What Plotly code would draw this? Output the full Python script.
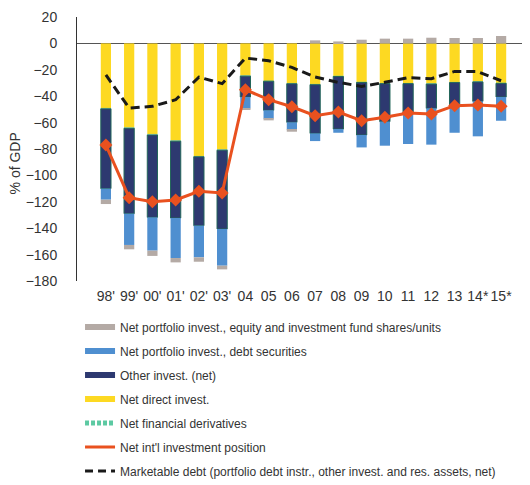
import plotly.graph_objects as go

years = ["98'", "99'", "00'", "01'", "02'", "03'", "04", "05", "06", "07",
         "08", "09", "10", "11", "12", "13", "14*", "15*"]

net_direct = [-49.2, -63.9, -68.9, -73.7, -85.6, -80.5, -24.5, -28.5, -30.3, -31.0,
              -24.7, -29.3, -30.3, -30.3, -30.5, -29.5, -29.0, -30.0]
net_derivatives = [-0.4, -0.4, -0.5, -0.4, -0.3, -0.4, -0.3, -0.2, -0.3, -0.3,
                   -0.4, -0.3, -0.2, -0.2, -0.3, -0.2, -0.2, -0.3]
other_invest = [-60.4, -64.7, -62.4, -58.2, -52.2, -59.7, -15.8, -22.0, -29.2, -36.9,
                -39.8, -39.8, -28.8, -22.2, -18.4, -17.5, -14.7, -10.3]
portfolio_debt = [-8.4, -23.7, -25.2, -30.3, -24.0, -27.8, -8.6, -6.3, -5.6, -5.8,
                  -2.8, -9.4, -18.2, -23.5, -27.5, -20.5, -26.5, -18.0]
portfolio_equity = [-3.3, -3.3, -4.0, -3.3, -3.3, -2.8, -1.0, -1.3, -1.5, 2.3,
                    1.5, 2.8, 3.6, 3.6, 4.3, 4.1, 4.1, 5.6]
niip = [-77.0, -116.9, -119.9, -118.6, -112.1, -113.3, -35.1, -42.6, -48.0, -54.8,
        -52.0, -58.6, -56.0, -52.7, -53.5, -47.2, -46.7, -47.7]
marketable_debt = [-23.9, -49.0, -47.7, -42.7, -25.5, -30.5, -11.1, -13.1, -18.2, -25.5,
                   -29.5, -32.6, -29.5, -26.0, -26.7, -21.2, -21.4, -28.3]

names = [
    "Net portfolio invest., equity and investment fund shares/units",
    "Net portfolio invest., debt securities",
    "Other invest. (net)",
    "Net direct invest.",
    "Net financial derivatives",
    "Net int'l investment position",
    "Marketable debt (portfolio debt instr., other invest. and res. assets, net)",
]

C_GRAY = "#B4AAA5"
C_BLUE = "#4F8FD0"
C_NAVY = "#2D3970"
C_NAVY_EDGE = "#23665A"
C_YELLOW = "#FDD922"
C_GREEN = "#5CC9A2"
C_ORANGE = "#E9511F"
C_BLACK = "#1A1A1A"

FONT = "Arial, Liberation Sans, sans-serif"

fig = go.Figure()
bw = 0.44

fig.add_trace(go.Bar(x=years, y=net_direct, marker=dict(color=C_YELLOW, line=dict(width=0)),
                     width=bw, showlegend=False, name=names[3]))
fig.add_trace(go.Bar(x=years, y=net_derivatives,
                     marker=dict(color="white", line=dict(width=0.5, color=C_GREEN),
                                 pattern=dict(shape="/", fgcolor=C_GREEN, bgcolor="white")),
                     width=bw, showlegend=False, name=names[4]))
fig.add_trace(go.Bar(x=years, y=other_invest, marker=dict(color=C_NAVY, line=dict(width=1, color=C_NAVY_EDGE)),
                     width=bw, showlegend=False, name=names[2]))
fig.add_trace(go.Bar(x=years, y=portfolio_debt, marker=dict(color=C_BLUE, line=dict(width=0)),
                     width=bw, showlegend=False, name=names[1]))
fig.add_trace(go.Bar(x=years, y=portfolio_equity, marker=dict(color=C_GRAY, line=dict(width=0)),
                     width=bw, showlegend=False, name=names[0]))

fig.add_trace(go.Scatter(x=years, y=marketable_debt, mode="lines",
                         line=dict(color=C_BLACK, width=3, dash="9px,5px"),
                         showlegend=False, name=names[6]))
fig.add_trace(go.Scatter(x=years, y=niip, mode="lines+markers",
                         line=dict(color=C_ORANGE, width=3),
                         marker=dict(symbol="diamond", size=10, color=C_ORANGE),
                         showlegend=False, name=names[5]))

# legend entries (library legend, drawn with swatch-like lines)
legend_styles = [
    dict(line=dict(color=C_GRAY, width=6)),
    dict(line=dict(color=C_BLUE, width=6)),
    dict(line=dict(color=C_NAVY, width=6)),
    dict(line=dict(color=C_YELLOW, width=6)),
    dict(line=dict(color=C_GREEN, width=5, dash="4px,2px")),
    dict(line=dict(color=C_ORANGE, width=3)),
    dict(line=dict(color=C_BLACK, width=3, dash="8px,5px")),
]
for i, (nm, st) in enumerate(zip(names, legend_styles)):
    fig.add_trace(go.Scatter(x=[None], y=[None], mode="lines", name=nm,
                             legendgroup=f"g{i}", showlegend=True, **st))

fig.update_layout(
    width=522, height=485,
    barmode="relative",
    bargap=0.56,
    plot_bgcolor="white", paper_bgcolor="white",
    margin=dict(l=69, r=0, t=9, b=212, autoexpand=False),
    font=dict(family=FONT, color="#333333", size=14),
    legend=dict(
        x=0.0067, y=-0.119, xanchor="left", yanchor="top",
        font=dict(size=12, color="#333333", family=FONT),
        tracegroupgap=5, itemwidth=30, bgcolor="rgba(0,0,0,0)",
        traceorder="grouped",
    ),
    xaxis=dict(type="category", showline=False, showgrid=False, zeroline=False,
               tickfont=dict(size=14), ticks="", tickangle=0, automargin=False,
               ticklabelstandoff=5),
    yaxis=dict(range=[-180, 20], dtick=20, showgrid=False, showline=True,
               linecolor="#333333", linewidth=1, zeroline=True, zerolinecolor="#555555",
               zerolinewidth=1, ticks="", tickfont=dict(size=14), ticklabelstandoff=16,
               automargin=False),
    annotations=[dict(text="% of GDP", textangle=-90, xref="paper", yref="paper",
                      x=-0.137, y=0.445, showarrow=False, font=dict(size=14),
                      xanchor="center", yanchor="middle")],
)

fig.write_html("out.html")
